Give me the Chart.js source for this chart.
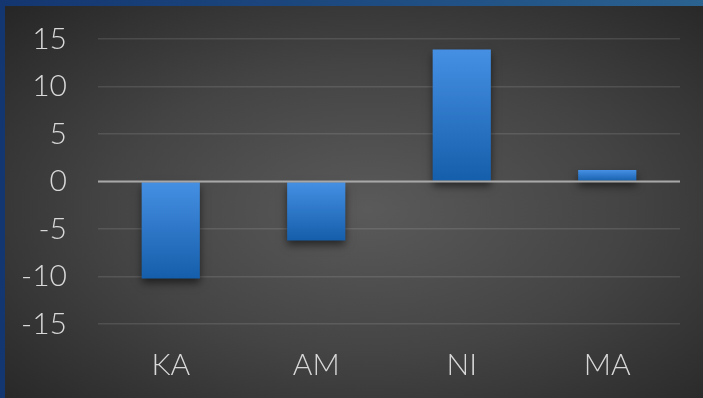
<!DOCTYPE html>
<html>
<head>
<meta charset="utf-8">
<script src="https://cdn.jsdelivr.net/npm/chart.js@4/dist/chart.umd.min.js"></script>
<style>
  html, body { margin: 0; padding: 0; }
  body { width: 703px; height: 398px; overflow: hidden; background: linear-gradient(90deg, #143670 0%, #1d4a80 50%, #2a6290 100%); }
  #frame {
    position: absolute; left: 5px; top: 6px; width: 698px; height: 392px;
    background: radial-gradient(ellipse farthest-corner at 52% 52%, #5a5a5a 0%, #444 50%, #262626 100%);
  }
  #chart { position: absolute; left: 0; top: 0; }
</style>
</head>
<body>
<div id="frame"></div>
<canvas id="chart" width="703" height="398"></canvas>
<script>
// values
var categories = ["KA", "AM", "NI", "MA"];
var values = [-10.2, -6.2, 13.9, 1.2];
var yTicks = [-15, -10, -5, 0, 5, 10, 15];

var labelFont = { family: "'Century Gothic', Lato, 'Open Sans', sans-serif", size: 30, weight: 300 };

/* light on top, dark at bottom of every bar */
function barGradient(context) {
    var chart = context.chart;
    if (!chart.chartArea) return "#2f7bd0";
    var y = chart.scales.y;
    var v = context.raw;
    var top = y.getPixelForValue(Math.max(v, 0));
    var bottom = y.getPixelForValue(Math.min(v, 0));
    if (bottom - top < 1) bottom = top + 1;
    var g = chart.ctx.createLinearGradient(0, top, 0, bottom);
    g.addColorStop(0, "#4690e4");
    g.addColorStop(1, "#155eab");
    return g;
}

var barShadow = {
    id: "barShadow",
    beforeDatasetsDraw: function (chart) {
        var ctx = chart.ctx;
        ctx.save();
        ctx.shadowColor = "rgba(0,0,0,0.55)";
        ctx.shadowBlur = 8;
        ctx.shadowOffsetY = 5;
    },
    afterDatasetsDraw: function (chart) {
        chart.ctx.restore();
        // zero line sits on top of the bars
        var ctx = chart.ctx;
        var y0 = chart.scales.y.getPixelForValue(0);
        ctx.save();
        ctx.strokeStyle = "#a8a8a8";
        ctx.lineWidth = 2;
        ctx.beginPath();
        ctx.moveTo(chart.chartArea.left, y0);
        ctx.lineTo(chart.chartArea.right, y0);
        ctx.stroke();
        ctx.restore();
    }
};

new Chart(document.getElementById("chart"), {
    type: "bar",
    data: {
        labels: categories,
        datasets: [{
            data: values,
            backgroundColor: barGradient,
            borderWidth: 0,
            barPercentage: 0.4,
            categoryPercentage: 1.0
        }]
    },
    options: {
        responsive: false,
        animation: false,
        layout: { padding: { top: 39, right: 23, left: 0, bottom: 0 } },
        plugins: { legend: { display: false }, tooltip: { enabled: false } },
        scales: {
            x: {
                grid: { display: false },
                border: { display: false },
                ticks: { color: "#d8d8d8", font: labelFont, padding: 15 },
                afterFit: function (s) { s.height = 74; }
            },
            y: {
                min: -15,
                max: 15,
                afterBuildTicks: function (s) { s.ticks = yTicks.map(function (v) { return { value: v }; }); },
                grid: { color: "rgba(255,255,255,0.11)", lineWidth: 1.5, drawTicks: false },
                border: { display: false },
                ticks: { color: "#d8d8d8", font: labelFont, padding: 31 },
                afterFit: function (s) {
                    s.width = 98;
                    // tick padding is meant to be horizontal only here
                    s.paddingTop = 0;
                    s.paddingBottom = 0;
                }
            }
        }
    },
    plugins: [barShadow]
});
</script>
</body>
</html>
